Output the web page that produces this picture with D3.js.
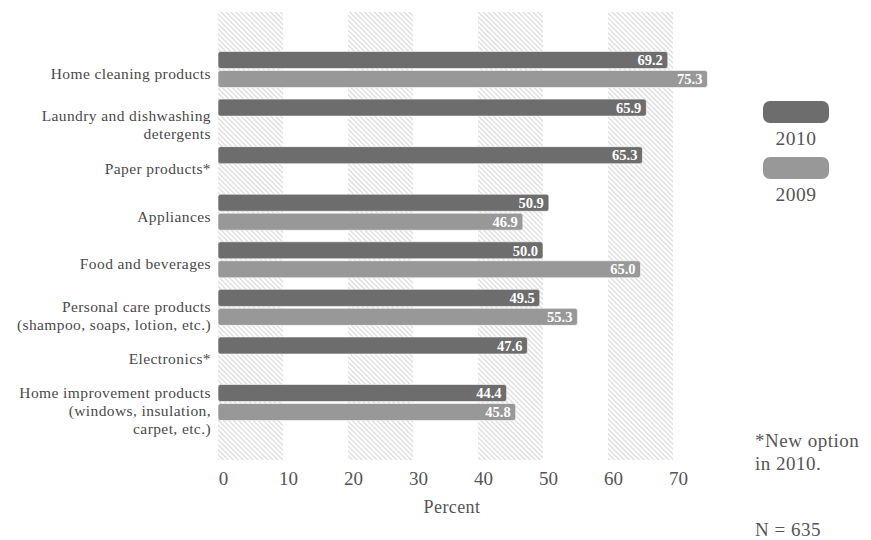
<!DOCTYPE html>
<html>
<head>
<meta charset="utf-8">
<script src="https://cdn.jsdelivr.net/npm/d3@7"></script>
<style>
  body { margin: 0; background: #fff; }
  svg { display: block; font-family: "Liberation Serif", "DejaVu Serif", serif; }
</style>
</head>
<body>
<div id="chart"></div>
<script>
const categories = [
  "Home cleaning products",
  "Laundry and dishwashing|detergents",
  "Paper products*",
  "Appliances",
  "Food and beverages",
  "Personal care products|(shampoo, soaps, lotion, etc.)",
  "Electronics*",
  "Home improvement products|(windows, insulation,|carpet, etc.)"
];
const series = ["2010", "2009"];
const values2010 = [69.2, 65.9, 65.3, 50.9, 50.0, 49.5, 47.6, 44.4];
const values2009 = [75.3, null, null, 46.9, 65.0, 55.3, null, 45.8];
const xTicks = [0, 10, 20, 30, 40, 50, 60, 70];
const shadedBands = [0, 20, 40, 60];

const colors = { "2010": "#6d6d6d", "2009": "#989898" };

const width = 871, height = 540;
const svg = d3.select("#chart").append("svg")
  .attr("width", width).attr("height", height);

const defs = svg.append("defs");
defs.append("pattern")
  .attr("id", "hatch")
  .attr("patternUnits", "userSpaceOnUse")
  .attr("width", 3.5).attr("height", 3.5)
  .attr("patternTransform", "rotate(-45)")
  .append("rect")
  .attr("width", 1.4).attr("height", 3.5)
  .attr("fill", "#dedede");

const x = d3.scaleLinear().domain([0, 70]).range([218, 673]);
const y = d3.scaleBand().domain(categories).range([45.7, 426.3]);
const y1 = d3.scaleBand().domain(series).range([-18, 18]).paddingInner(0.1);

// hatched background bands
svg.append("g").selectAll("rect")
  .data(shadedBands)
  .join("rect")
  .attr("x", d => x(d))
  .attr("width", d => x(d + 10) - x(d))
  .attr("y", 12)
  .attr("height", 448)
  .attr("fill", "url(#hatch)");

// bars
const rows = categories.map((c, i) => ({ cat: c, vals: [
  { s: "2010", v: values2010[i] },
  { s: "2009", v: values2009[i] }
].filter(d => d.v != null) }));

const g = svg.append("g").selectAll("g")
  .data(rows)
  .join("g")
  .attr("transform", d => `translate(0,${y(d.cat) + y.bandwidth() / 2})`);

const bar = g.selectAll("g")
  .data(d => d.vals)
  .join("g");

bar.append("rect")
  .attr("x", x(0))
  .attr("y", d => y1(d.s))
  .attr("width", d => x(d.v) - x(0))
  .attr("height", y1.bandwidth())
  .attr("rx", 2.5)
  .attr("fill", d => colors[d.s])
  .attr("stroke", "#ffffff")
  .attr("stroke-width", 0.6);

bar.append("text")
  .attr("x", d => x(d.v) - 5)
  .attr("y", d => y1(d.s) + y1.bandwidth() / 2)
  .attr("dy", "0.36em")
  .attr("text-anchor", "end")
  .attr("fill", "#fff")
  .attr("font-size", 14.5)
  .attr("font-weight", "bold")
  .text(d => d.v.toFixed(1));

// category labels
const labels = svg.append("g").selectAll("text")
  .data(categories)
  .join("text")
  .attr("text-anchor", "end")
  .attr("fill", "#4a4a4a")
  .attr("font-size", 15.5)
  .attr("letter-spacing", 0.4);

labels.each(function (d) {
  const lines = d.split("|");
  const cy = y(d) + y.bandwidth() / 2 + 4;
  const lh = 18;
  d3.select(this).selectAll("tspan")
    .data(lines)
    .join("tspan")
    .attr("x", 211)
    .attr("y", (l, i) => cy + (i - (lines.length - 1) / 2) * lh + (lines.length > 1 ? 4 : 0))
    .attr("dy", "0.35em")
    .text(l => l);
});

// x axis (no line)
const axis = svg.append("g")
  .attr("transform", "translate(0,478)")
  .call(d3.axisBottom(x).tickValues(xTicks).tickSize(0).tickPadding(0));
axis.select(".domain").remove();
axis.selectAll("text")
  .attr("font-family", "Liberation Serif, serif")
  .attr("font-size", 19)
  .attr("fill", "#555")
  .attr("dx", 5)
  .attr("dy", "0.35em");

svg.append("text")
  .attr("x", 452).attr("y", 507)
  .attr("dy", "0.35em")
  .attr("text-anchor", "middle")
  .attr("fill", "#555")
  .attr("font-size", 18)
  .attr("letter-spacing", 0.4)
  .text("Percent");

// legend
const legend = svg.append("g").selectAll("g")
  .data(series)
  .join("g")
  .attr("transform", (d, i) => `translate(763,${101 + i * 56})`);
legend.append("rect")
  .attr("width", 66).attr("height", 22)
  .attr("rx", 7)
  .attr("fill", d => colors[d]);
legend.append("text")
  .attr("x", 33).attr("y", 37)
  .attr("dy", "0.35em")
  .attr("text-anchor", "middle")
  .attr("fill", "#555")
  .attr("font-size", 19.5)
  .attr("letter-spacing", 0.5)
  .text(d => d);

// notes
const notes = svg.append("g").attr("fill", "#555").attr("font-size", 19).attr("letter-spacing", 0.5);
notes.append("text").attr("x", 755).attr("y", 440).attr("dy", "0.35em").text("*New option");
notes.append("text").attr("x", 755).attr("y", 463).attr("dy", "0.35em").text("in 2010.");
notes.append("text").attr("x", 755).attr("y", 529).attr("dy", "0.35em").text("N = 635");
</script>
</body>
</html>
